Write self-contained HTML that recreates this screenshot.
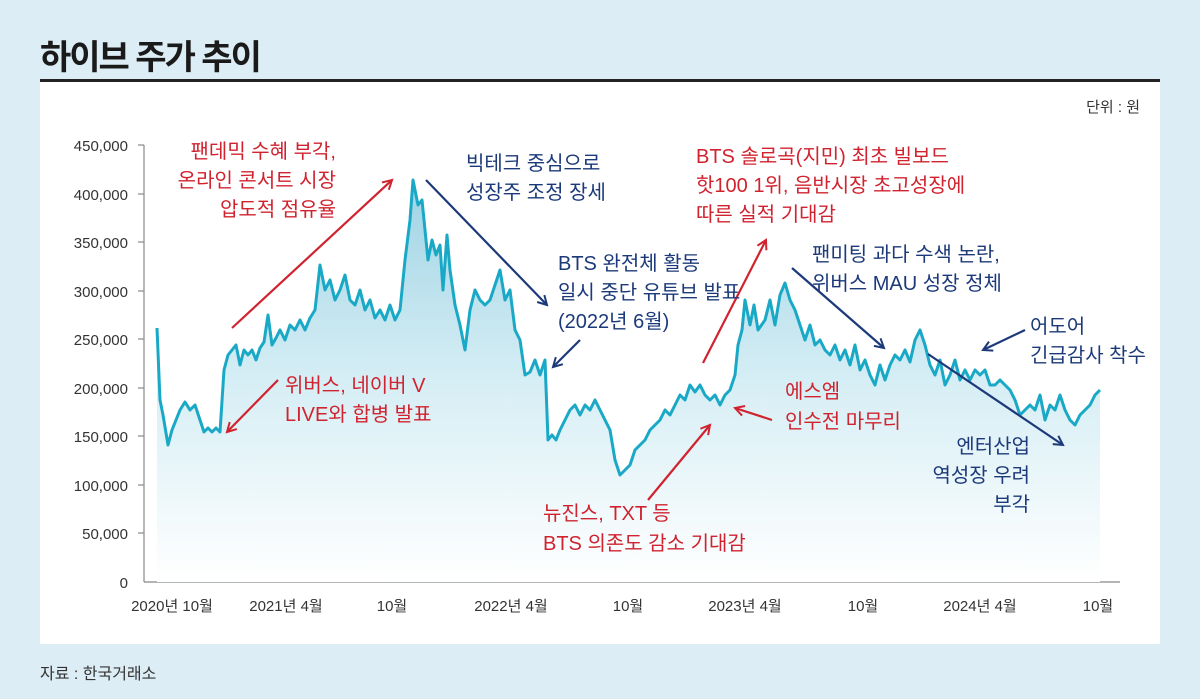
<!DOCTYPE html>
<html><head><meta charset="utf-8"><style>
body{margin:0;width:1200px;height:699px;background:#dcedf5;font-family:"Liberation Sans","Noto Sans CJK KR",sans-serif;position:relative;overflow:hidden}
.t{position:absolute;white-space:nowrap}
</style></head><body>
<div class="t" style="left:40px;top:30px;font-size:34px;font-weight:bold;color:#1a1a1a;letter-spacing:-2px">하이브 주가 추이</div>
<div style="position:absolute;left:40px;top:79px;width:1120px;height:3px;background:#222"></div>
<div style="position:absolute;left:40px;top:82px;width:1120px;height:562px;background:#fff"></div>
<div class="t" style="left:40px;top:660px;font-size:16px;color:#333">자료 : 한국거래소</div>
<svg width="1200" height="699" style="position:absolute;left:0;top:0" font-family="Liberation Sans, Noto Sans CJK KR, sans-serif">
<defs><linearGradient id="g" x1="0" y1="0" x2="0" y2="1"><stop offset="0" stop-color="#9fd3e4"/><stop offset="0.5" stop-color="#d6eef5"/><stop offset="1" stop-color="#fff"/></linearGradient>
<marker id="ar" markerWidth="12" markerHeight="12" refX="10" refY="6" orient="auto" markerUnits="userSpaceOnUse"><path d="M1,1 L10,6 L1,11" fill="none" stroke="#d0232f" stroke-width="2"/></marker>
<marker id="ab" markerWidth="12" markerHeight="12" refX="10" refY="6" orient="auto" markerUnits="userSpaceOnUse"><path d="M1,1 L10,6 L1,11" fill="none" stroke="#1c3a7a" stroke-width="2"/></marker></defs>
<text x="1140" y="112" font-size="15" fill="#333" text-anchor="end">단위 : 원</text>
<g font-size="15" fill="#333" text-anchor="end">
<text x="128" y="151">450,000</text><text x="128" y="200">400,000</text><text x="128" y="248">350,000</text><text x="128" y="297">300,000</text><text x="128" y="345">250,000</text><text x="128" y="394">200,000</text><text x="128" y="442">150,000</text><text x="128" y="491">100,000</text><text x="128" y="539">50,000</text><text x="128" y="588">0</text></g>
<g stroke="#888" stroke-width="1.2"><line x1="144" y1="145" x2="144" y2="582"/><line x1="144" y1="582" x2="1120" y2="582"/>
<line x1="138" y1="145" x2="144" y2="145"/><line x1="138" y1="194" x2="144" y2="194"/><line x1="138" y1="242" x2="144" y2="242"/><line x1="138" y1="291" x2="144" y2="291"/><line x1="138" y1="339" x2="144" y2="339"/><line x1="138" y1="388" x2="144" y2="388"/><line x1="138" y1="436" x2="144" y2="436"/><line x1="138" y1="485" x2="144" y2="485"/><line x1="138" y1="533" x2="144" y2="533"/></g>
<g font-size="15" fill="#333" text-anchor="middle">
<text x="172" y="611">2020년 10월</text><text x="286" y="611">2021년 4월</text><text x="392" y="611">10월</text><text x="511" y="611">2022년 4월</text><text x="628" y="611">10월</text><text x="745" y="611">2023년 4월</text><text x="863" y="611">10월</text><text x="980" y="611">2024년 4월</text><text x="1098" y="611">10월</text></g>
<polygon fill="url(#g)" points="157,582 157,328 160,400 163,415 168,445 172,430 176,420 180,410 185,402 190,410 195,405 200,420 204,432 208,428 212,432 216,428 220,432 224,370 228,355 232,350 236,345 240,365 244,350 248,355 252,350 256,360 260,348 264,342 268,315 272,345 276,338 280,330 285,340 290,325 295,330 300,320 305,330 310,318 315,310 320,265 325,290 330,280 335,300 340,290 345,275 350,300 355,305 360,290 365,310 370,300 375,318 380,310 385,320 390,305 395,320 400,310 405,260 410,220 413,180 418,205 422,200 428,260 432,240 436,255 440,245 443,290 447,235 450,270 455,305 460,325 465,350 470,310 475,290 480,300 485,305 490,300 495,285 500,270 505,300 510,290 515,330 520,340 525,375 530,372 535,360 540,375 545,360 548,440 552,435 556,440 560,430 565,420 570,410 575,405 580,415 585,405 590,410 595,400 600,410 605,420 610,430 615,460 620,475 625,470 630,465 635,450 640,445 645,440 650,430 655,425 660,420 665,410 670,415 675,405 680,395 685,400 690,385 695,392 700,385 705,395 710,400 715,395 720,405 725,395 730,390 735,375 738,345 742,330 745,300 750,325 754,305 758,330 765,320 770,300 775,325 780,295 785,283 790,300 795,310 800,325 805,340 810,325 815,345 820,340 825,350 830,355 835,345 840,360 845,350 850,365 855,345 860,370 865,360 870,375 875,385 880,365 885,380 890,365 895,355 900,360 905,350 910,362 915,340 920,330 925,345 930,365 935,375 940,360 945,385 950,375 955,360 960,380 965,370 970,380 975,370 980,375 985,370 990,385 995,385 1000,380 1005,385 1010,390 1015,400 1020,415 1025,410 1030,405 1035,410 1040,395 1045,420 1050,405 1055,410 1060,395 1065,410 1070,420 1075,425 1080,415 1085,410 1090,405 1095,395 1100,390 1100,582"/>
<polyline fill="none" stroke="#19a9c6" stroke-width="3" stroke-linejoin="round" points="157,328 160,400 163,415 168,445 172,430 176,420 180,410 185,402 190,410 195,405 200,420 204,432 208,428 212,432 216,428 220,432 224,370 228,355 232,350 236,345 240,365 244,350 248,355 252,350 256,360 260,348 264,342 268,315 272,345 276,338 280,330 285,340 290,325 295,330 300,320 305,330 310,318 315,310 320,265 325,290 330,280 335,300 340,290 345,275 350,300 355,305 360,290 365,310 370,300 375,318 380,310 385,320 390,305 395,320 400,310 405,260 410,220 413,180 418,205 422,200 428,260 432,240 436,255 440,245 443,290 447,235 450,270 455,305 460,325 465,350 470,310 475,290 480,300 485,305 490,300 495,285 500,270 505,300 510,290 515,330 520,340 525,375 530,372 535,360 540,375 545,360 548,440 552,435 556,440 560,430 565,420 570,410 575,405 580,415 585,405 590,410 595,400 600,410 605,420 610,430 615,460 620,475 625,470 630,465 635,450 640,445 645,440 650,430 655,425 660,420 665,410 670,415 675,405 680,395 685,400 690,385 695,392 700,385 705,395 710,400 715,395 720,405 725,395 730,390 735,375 738,345 742,330 745,300 750,325 754,305 758,330 765,320 770,300 775,325 780,295 785,283 790,300 795,310 800,325 805,340 810,325 815,345 820,340 825,350 830,355 835,345 840,360 845,350 850,365 855,345 860,370 865,360 870,375 875,385 880,365 885,380 890,365 895,355 900,360 905,350 910,362 915,340 920,330 925,345 930,365 935,375 940,360 945,385 950,375 955,360 960,380 965,370 970,380 975,370 980,375 985,370 990,385 995,385 1000,380 1005,385 1010,390 1015,400 1020,415 1025,410 1030,405 1035,410 1040,395 1045,420 1050,405 1055,410 1060,395 1065,410 1070,420 1075,425 1080,415 1085,410 1090,405 1095,395 1100,390"/>
<g stroke="#d0232f" stroke-width="2.2" fill="none">
<line x1="232" y1="328" x2="392" y2="180" marker-end="url(#ar)"/>
<line x1="278" y1="380" x2="227" y2="432" marker-end="url(#ar)"/>
<line x1="703" y1="363" x2="766" y2="240" marker-end="url(#ar)"/>
<line x1="648" y1="500" x2="710" y2="425" marker-end="url(#ar)"/>
<line x1="772" y1="420" x2="735" y2="408" marker-end="url(#ar)"/>
</g>
<g stroke="#1c3a7a" stroke-width="2.2" fill="none">
<line x1="426" y1="180" x2="547" y2="305" marker-end="url(#ab)"/>
<line x1="580" y1="340" x2="553" y2="367" marker-end="url(#ab)"/>
<line x1="792" y1="268" x2="884" y2="348" marker-end="url(#ab)"/>
<line x1="1025" y1="330" x2="983" y2="350" marker-end="url(#ab)"/>
<line x1="928" y1="354" x2="1063" y2="445" marker-end="url(#ab)"/>
</g>
<g font-size="20" fill="#d0232f" text-anchor="end">
<text x="336" y="158">팬데믹 수혜 부각,</text><text x="336" y="187">온라인 콘서트 시장</text><text x="336" y="216">압도적 점유율</text></g>
<g font-size="20" fill="#d0232f">
<text x="285" y="392">위버스, 네이버 V</text><text x="285" y="421">LIVE와 합병 발표</text>
<text x="696" y="163">BTS 솔로곡(지민) 최초 빌보드</text><text x="696" y="192">핫100 1위, 음반시장 초고성장에</text><text x="696" y="221">따른 실적 기대감</text>
<text x="785" y="398">에스엠</text><text x="785" y="428">인수전 마무리</text>
<text x="543" y="520">뉴진스, TXT 등</text><text x="543" y="550">BTS 의존도 감소 기대감</text></g>
<g font-size="20" fill="#1c3a7a">
<text x="466" y="170">빅테크 중심으로</text><text x="466" y="199">성장주 조정 장세</text>
<text x="558" y="270">BTS 완전체 활동</text><text x="558" y="299">일시 중단 유튜브 발표</text><text x="558" y="328">(2022년 6월)</text>
<text x="812" y="261">팬미팅 과다 수색 논란,</text><text x="812" y="290">위버스 MAU 성장 정체</text>
<text x="1030" y="333">어도어</text><text x="1030" y="362">긴급감사 착수</text></g>
<g font-size="20" fill="#1c3a7a" text-anchor="end">
<text x="1030" y="453">엔터산업</text><text x="1030" y="482">역성장 우려</text><text x="1030" y="511">부각</text></g>
</svg>
</body></html>
